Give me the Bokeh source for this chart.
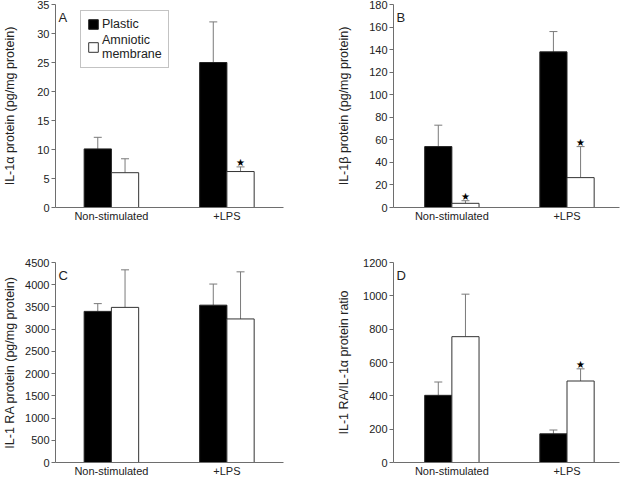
from bokeh.plotting import figure
from bokeh.layouts import gridplot
from bokeh.models import (ColumnDataSource, Whisker, TeeHead, FixedTicker, Range1d,
                          Legend, LegendItem, Label)
from bokeh.core.properties import value
from bokeh.embed import file_html
from bokeh.resources import INLINE

# ---- data ----
groups = ["Non-stimulated", "+LPS"]
series = ["Plastic", "Amniotic\nmembrane"]

a_plastic = [10.1, 25.0]
a_plastic_err = [12.1, 32.0]
a_amnio = [6.0, 6.2]
a_amnio_err = [8.4, 7.0]
a_stars = [False, True]

b_plastic = [54.0, 138.0]
b_plastic_err = [73.0, 156.0]
b_amnio = [3.7, 26.5]
b_amnio_err = [6.0, 54.0]
b_stars = [True, True]

c_plastic = [3400, 3540]
c_plastic_err = [3575, 4015]
c_amnio = [3490, 3230]
c_amnio_err = [4335, 4290]
c_stars = [False, False]

d_plastic = [403, 172]
d_plastic_err = [483, 195]
d_amnio = [755, 489]
d_amnio_err = [1010, 562]
d_stars = [False, True]

a_ticks = [0, 5, 10, 15, 20, 25, 30, 35]
b_ticks = [0, 20, 40, 60, 80, 100, 120, 140, 160, 180]
c_ticks = [0, 500, 1000, 1500, 2000, 2500, 3000, 3500, 4000, 4500]
d_ticks = [0, 200, 400, 600, 800, 1000, 1200]

FONT = "Liberation Sans"
TXT = "#222222"
AX = "#6e6e6e"
BARW = 0.236


def panel(letter, ylabel, plastic, plastic_err, amnio, amnio_err, stars, ticks,
          width, height, left, right, top, bottom, xr, label_standoff, legend=False):
    p = figure(width=width, height=height, output_backend="svg", toolbar_location=None,
               x_range=Range1d(*xr), y_range=Range1d(ticks[0], ticks[-1]),
               min_border_left=left, min_border_right=right,
               min_border_top=top, min_border_bottom=bottom)
    p.outline_line_color = None
    p.grid.visible = False
    p.background_fill_color = "white"
    p.border_fill_color = "white"

    centers = [i + 1 for i in range(len(groups))]
    xp = [c - BARW / 2 for c in centers]
    xa = [c + BARW / 2 for c in centers]
    src_p = ColumnDataSource(dict(x=xp, top=plastic, upper=plastic_err))
    src_a = ColumnDataSource(dict(x=xa, top=amnio, upper=amnio_err))

    for src in (src_p, src_a):
        w = Whisker(base="x", lower="top", upper="upper", source=src, dimension="height",
                    line_color="#7a7a7a", line_width=1, lower_head=None,
                    upper_head=TeeHead(size=8, line_color="#7a7a7a", line_width=1))
        p.add_layout(w)

    rp = p.vbar(x="x", top="top", width=BARW, source=src_p, fill_color="black",
                line_color="#222222", line_width=1)
    ra = p.vbar(x="x", top="top", width=BARW, source=src_a, fill_color="white",
                line_color="#333333", line_width=1)

    sx = [xa[i] for i in range(len(stars)) if stars[i]]
    sy = [amnio_err[i] for i in range(len(stars)) if stars[i]]
    if sx:
        p.text(x=sx, y=sy, text=["★"] * len(sx), text_align="center",
               text_baseline="alphabetic", y_offset=-4, text_font_size="10px",
               text_font=value("DejaVu Sans"), text_color="black")

    p.add_layout(Label(x=xr[0], y=ticks[-1], x_offset=3, y_offset=-5, text=letter,
                       text_baseline="top", text_font=FONT, text_font_size="13px",
                       text_color=TXT))

    # axes
    p.yaxis.ticker = FixedTicker(ticks=ticks)
    p.yaxis.axis_label = ylabel
    p.yaxis.axis_label_text_font = FONT
    p.yaxis.axis_label_text_font_style = "normal"
    p.yaxis.axis_label_text_font_size = "12.5px"
    p.yaxis.axis_label_text_color = TXT
    p.yaxis.axis_label_standoff = label_standoff
    p.yaxis.major_label_text_font = FONT
    p.yaxis.major_label_text_font_size = "11px"
    p.yaxis.major_label_text_color = TXT
    p.yaxis.major_label_standoff = 2
    p.yaxis.major_tick_out = 4
    p.yaxis.major_tick_in = 0
    p.yaxis.minor_tick_line_color = None
    p.yaxis.axis_line_color = AX
    p.yaxis.major_tick_line_color = AX

    p.xaxis.ticker = FixedTicker(ticks=centers)
    p.xaxis.major_label_overrides = {c: g for c, g in zip(centers, groups)}
    p.xaxis.major_label_text_font = FONT
    p.xaxis.major_label_text_font_size = "11px"
    p.xaxis.major_label_text_color = TXT
    p.xaxis.major_label_standoff = 2
    p.xaxis.major_tick_out = 0
    p.xaxis.major_tick_in = 0
    p.xaxis.major_tick_line_color = None
    p.xaxis.minor_tick_line_color = None
    p.xaxis.axis_line_color = AX

    if legend:
        lg = Legend(items=[LegendItem(label=series[0], renderers=[rp]),
                           LegendItem(label=series[1], renderers=[ra])],
                    location=(25, 139), glyph_width=12, glyph_height=12,
                    label_text_font=FONT, label_text_font_size="12.5px",
                    label_text_color=TXT, label_standoff=3, spacing=2,
                    padding=6, margin=0, border_line_color="#888888",
                    background_fill_alpha=1.0, label_height=12)
        p.add_layout(lg)
    return p


pA = panel("A", "IL-1α protein (pg/mg protein)", a_plastic, a_plastic_err, a_amnio,
           a_amnio_err, a_stars, a_ticks, 312, 240, 54, 29, 4, 33, (0.516, 2.49), 17,
           legend=True)
pB = panel("B", "IL-1β protein (pg/mg protein)", b_plastic, b_plastic_err, b_amnio,
           b_amnio_err, b_stars, b_ticks, 312, 240, 81, 5, 4, 33, (0.493, 2.456), 15)
pC = panel("C", "IL-1 RA protein (pg/mg protein)", c_plastic, c_plastic_err, c_amnio,
           c_amnio_err, c_stars, c_ticks, 312, 239, 54, 29, 22, 16, (0.516, 2.49), 5)
pD = panel("D", "IL-1 RA/IL-1α protein ratio", d_plastic, d_plastic_err, d_amnio,
           d_amnio_err, d_stars, d_ticks, 312, 239, 81, 5, 22, 16, (0.493, 2.456), 9)

grid = gridplot([[pA, pB], [pC, pD]], toolbar_location=None)

open("out.html", "w").write(file_html(grid, INLINE))
